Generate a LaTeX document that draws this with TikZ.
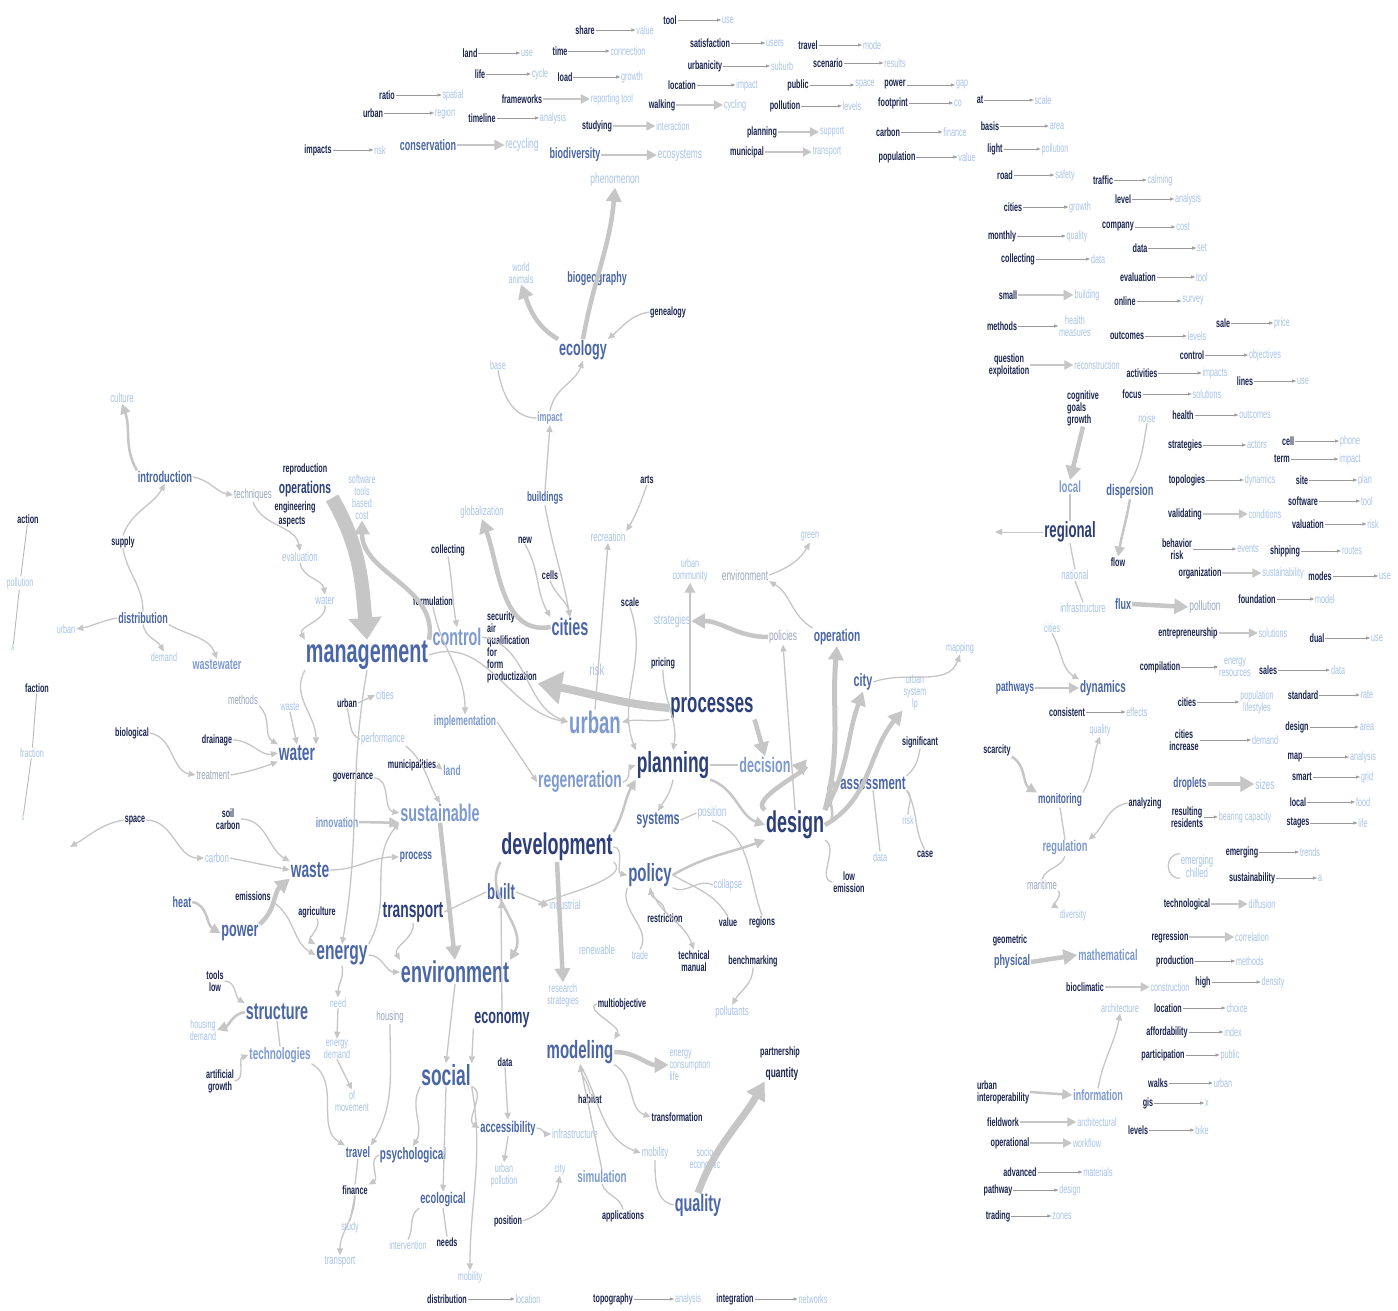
\documentclass[tikz,border=0pt]{standalone}
\usepackage{fontspec}
\setmainfont{Liberation Sans}[FakeStretch=0.6]
\usetikzlibrary{arrows.meta}
\definecolor{dk}{HTML}{1B2550}
\definecolor{nv}{HTML}{2C3F78}
\definecolor{md}{HTML}{4A66A6}
\definecolor{ml}{HTML}{7D9ACF}
\definecolor{lt}{HTML}{A8C3E8}
\definecolor{lg}{HTML}{9AA6BE}
\definecolor{eg}{HTML}{C6C6C6}
\definecolor{ep}{HTML}{9A9A9A}
\tikzset{
 base/.style={inner sep=1pt,outer sep=0pt,align=center},
 sd/.style={base,text=dk,font=\fontsize{#1}{#1}\selectfont\bfseries}, sd/.default=12,
 sl/.style={base,text=lt,font=\fontsize{#1}{#1}\selectfont}, sl/.default=12,
 sg/.style={base,text=lg,font=\fontsize{#1}{#1}\selectfont}, sg/.default=12,
 bn/.style={base,text=nv,font=\fontsize{#1}{#1}\selectfont\bfseries}, bn/.default=16,
 bm/.style={base,text=md,font=\fontsize{#1}{#1}\selectfont\bfseries}, bm/.default=16,
 bl/.style={base,text=ml,font=\fontsize{#1}{#1}\selectfont\bfseries}, bl/.default=16,
 e1/.style={draw=eg,line width=1.3pt,-{Triangle[length=7pt,width=6pt]}},
 l1/.style={draw=eg,line width=1.3pt},
 e2/.style={draw=eg,line width=2.5pt,-{Triangle[length=10pt,width=10pt]}},
 e3/.style={draw=eg,line width=4.5pt,-{Triangle[length=14pt,width=15pt]}},
 e4/.style={draw=eg,line width=14pt,-{Triangle[length=22pt,width=32pt]}},
 pe/.style={draw=ep,line width=0.7pt,-{Triangle[length=4pt,width=3pt,fill=eg]}},
 pa/.style={draw=eg,line width=2pt,-{Triangle[length=9pt,width=9pt]}},
}
\newcommand{\pairrow}[7]{%
  \node[sd] (#1s) at (#2,#4) {#3};
  \node[sl] (#1t) at (#5,#4) {#6};
  \draw[#7] (#1s) -- (#1t);}
\begin{document}
\begin{tikzpicture}[x=1pt,y=-1pt]
\fill[white] (0,0) rectangle (1398,1310);
\useasboundingbox (0,0) rectangle (1398,1310);

% ---------- top rows ----------
\pairrow{p1}{387}{ratio}{95}{453}{spatial}{pe}
\pairrow{p2}{373}{urban}{113}{445}{region}{pe}
\pairrow{p3}{318}{impacts}{150}{380}{risk}{pe}
\pairrow{p4}{670}{tool}{20}{728}{use}{pe}
\pairrow{p5}{585}{share}{30}{645}{value}{pe}
\pairrow{p6}{470}{land}{53}{527}{use}{pe}
\pairrow{p7}{560}{time}{51}{628}{connection}{pe}
\pairrow{p8}{480}{life}{74}{540}{cycle}{pe}
\pairrow{p9}{565}{load}{77}{632}{growth}{pe}
\pairrow{p10}{522}{frameworks}{99}{612}{reporting tool}{pa}
\pairrow{p11}{482}{timeline}{118}{553}{analysis}{pe}
\pairrow{p12}{597}{studying}{126}{673}{interaction}{pa}
\node[bm=15] (biod) at (575,155) {biodiversity};
\node[sl=14] (ecos) at (680,155) {ecosystems};
\draw[e2] (biod) -- (ecos);
\node[bm=15] (cons) at (428,145) {conservation};
\node[sl=14] (recy) at (522,145) {recycling};
\draw[e2] (cons) -- (recy);
\pairrow{p13}{710}{satisfaction}{43}{775}{users}{pe}
\pairrow{p14}{705}{urbanicity}{66}{782}{suburb}{pe}
\pairrow{p15}{682}{location}{85}{747}{impact}{pe}
\pairrow{p16}{662}{walking}{105}{735}{cycling}{pa}
\pairrow{p17}{808}{travel}{45}{872}{mode}{pe}
\pairrow{p18}{828}{scenario}{63}{895}{results}{pe}
\pairrow{p19}{798}{public}{85}{865}{space}{pe}
\pairrow{p20}{785}{pollution}{106}{852}{levels}{pe}
\pairrow{p21}{762}{planning}{132}{832}{support}{pa}
\pairrow{p22}{747}{municipal}{152}{827}{transport}{pa}
\pairrow{p23}{895}{power}{85}{962}{gap}{pe}
\pairrow{p24}{893}{footprint}{103}{958}{co}{pe}
\pairrow{p25}{888}{carbon}{132}{955}{finance}{pe}
\pairrow{p26}{897}{population}{157}{967}{value}{pe}
\pairrow{p27}{980}{at}{100}{1043}{scale}{pe}
\pairrow{p28}{990}{basis}{126}{1057}{area}{pe}
\pairrow{p29}{995}{light}{149}{1055}{pollution}{pe}
\pairrow{p30}{1005}{road}{175}{1065}{safety}{pe}
\pairrow{p31}{1103}{traffic}{180}{1160}{calming}{pe}
\pairrow{p32}{1013}{cities}{207}{1080}{growth}{pe}
\pairrow{p33}{1123}{level}{199}{1188}{analysis}{pe}
\pairrow{p34}{1118}{company}{227}{1183}{cost}{pe}
\pairrow{p35}{1002}{monthly}{236}{1077}{quality}{pe}
\pairrow{p36}{1140}{data}{248}{1202}{set}{pe}
\pairrow{p37}{1018}{collecting}{259}{1098}{data}{pe}
\pairrow{p38}{1138}{evaluation}{277}{1202}{tool}{pe}
\pairrow{p39}{1008}{small}{295}{1087}{building}{e2}
\pairrow{p40}{1125}{online}{301}{1193}{survey}{pe}
\pairrow{p41}{1002}{methods}{326}{1075}{health\\measures}{pe}
\pairrow{p42}{1223}{sale}{323}{1282}{price}{pe}
\pairrow{p43}{1127}{outcomes}{336}{1197}{levels}{pe}
\pairrow{p44}{1009}{question\\exploitation}{365}{1097}{reconstruction}{pa}
\pairrow{p45}{1192}{control}{355}{1265}{objectives}{pe}
\pairrow{p46}{1142}{activities}{373}{1215}{impacts}{pe}
\pairrow{p47}{1245}{lines}{381}{1303}{use}{pe}
\pairrow{p48}{1132}{focus}{394}{1207}{solutions}{pe}
\pairrow{p49}{1183}{health}{415}{1255}{outcomes}{pe}
\pairrow{p50}{1185}{strategies}{445}{1257}{actors}{pe}
\pairrow{p51}{1288}{cell}{441}{1350}{phone}{pe}
\pairrow{p52}{1282}{term}{459}{1350}{impact}{pe}
\pairrow{p53}{1187}{topologies}{480}{1260}{dynamics}{pe}
\pairrow{p54}{1302}{site}{480}{1365}{plan}{pe}
\pairrow{p55}{1303}{software}{501}{1367}{tool}{pe}
\pairrow{p56}{1185}{validating}{514}{1265}{conditions}{pa}
\pairrow{p57}{1308}{valuation}{524}{1373}{risk}{pe}
\pairrow{p58}{1177}{behavior\\risk}{549}{1248}{events}{pe}
\pairrow{p59}{1285}{shipping}{551}{1352}{routes}{pe}
\pairrow{p60}{1200}{organization}{573}{1283}{sustainability}{pa}
\pairrow{p61}{1320}{modes}{576}{1385}{use}{pe}
\pairrow{p62}{1257}{foundation}{599}{1325}{model}{pe}
\pairrow{p63}{1188}{entrepreneurship}{633}{1273}{solutions}{pa}
\pairrow{p64}{1317}{dual}{638}{1377}{use}{pe}
\pairrow{p65}{1160}{compilation}{667}{1235}{energy\\resources}{pe}
\pairrow{p66}{1268}{sales}{670}{1338}{data}{pe}
\pairrow{p67}{1067}{consistent}{712}{1137}{effects}{pe}
\pairrow{p68}{1187}{cities}{702}{1257}{population\\lifestyles}{pe}
\pairrow{p69}{1303}{standard}{695}{1367}{rate}{pe}
\pairrow{p70}{1184}{cities\\increase}{740}{1265}{demand}{pe}
\pairrow{p71}{1297}{design}{727}{1367}{area}{pe}
\pairrow{p72}{1295}{map}{757}{1363}{analysis}{pe}
\pairrow{p73}{1302}{smart}{777}{1367}{grid}{pe}
\node[bm=14] (drop) at (1190,784) {droplets};
\node[sl=14] (size) at (1265,784) {sizes};
\draw[e3] (drop) -- (size);
\pairrow{p74}{1187}{resulting\\residents}{817}{1245}{bearing capacity}{pe}
\pairrow{p75}{1298}{local}{802}{1363}{food}{pe}
\pairrow{p76}{1298}{stages}{823}{1363}{life}{pe}
\pairrow{p77}{1242}{emerging}{852}{1310}{trends}{pe}
\pairrow{p78}{1252}{sustainability}{878}{1320}{a}{pe}
\pairrow{p79}{1187}{technological}{904}{1262}{diffusion}{pa}
\pairrow{p80}{1170}{regression}{937}{1252}{correlation}{pa}
\pairrow{p81}{1175}{production}{961}{1250}{methods}{pe}
\pairrow{p82}{1203}{high}{982}{1273}{density}{pe}
\pairrow{p83}{1085}{bioclimatic}{987}{1170}{construction}{pa}
\pairrow{p84}{1168}{location}{1008}{1237}{choice}{pe}
\pairrow{p85}{1167}{affordability}{1032}{1233}{index}{pe}
\pairrow{p86}{1163}{participation}{1055}{1230}{public}{pe}
\pairrow{p87}{1158}{walks}{1083}{1223}{urban}{pe}
\pairrow{p88}{1148}{gis}{1103}{1207}{x}{pe}
\pairrow{p89}{1138}{levels}{1130}{1202}{bike}{pe}
\pairrow{p90}{1003}{fieldwork}{1122}{1097}{architectural}{pa}
\pairrow{p91}{1010}{operational}{1143}{1087}{workflow}{pa}
\pairrow{p92}{1020}{advanced}{1172}{1098}{materials}{pe}
\pairrow{p93}{998}{pathway}{1190}{1070}{design}{pe}
\pairrow{p94}{998}{trading}{1216}{1062}{zones}{pe}
\pairrow{p95}{447}{distribution}{1299}{528}{location}{pe}
\pairrow{p96}{613}{topography}{1299}{688}{analysis}{pe}
\pairrow{p97}{735}{integration}{1299}{813}{networks}{pe}

% ---------- far left ----------
\node[sd] (acti) at (28,519) {action};
\node[sl] (polL) at (20,583) {pollution};
\node[sl=9] (trA) at (13,648) {a};
\draw[l1,line width=0.9pt,draw=ep!70] (acti) -- (polL) -- (trA);
\node[sd] (fact) at (37,688) {faction};
\node[sl] (frac) at (32,753) {fraction};
\node[sl=9] (trB) at (23,818) {s};
\draw[l1,line width=0.9pt,draw=ep!70] (fact) -- (frac) -- (trB);

% ---------- central cluster nodes ----------
\node[bm=21] (ecol) at (583,350) {ecology};
\node[bm=15] (biog) at (597,279) {biogeography};
\node[sl=14] (phen) at (615,180) {phenomenon};
\node[sl] (wani) at (521,273) {world\\animals};
\node[sd] (gene) at (668,312) {genealogy};
\node[sl] (basel) at (498,365) {base};
\node[bl=13] (impa) at (550,418) {impact};
\node[bm=13.5] (bldg) at (545,498) {buildings};
\node[sl=13] (glob) at (482,512) {globalization};
\node[sd] (wax) at (525,540) {new};
\node[sd] (cell) at (550,575) {cells};
\node[sd] (arts) at (647,480) {arts};
\node[sl=13] (recr) at (608,537) {recreation};
\node[bm=24] (citi) at (570,627) {cities};
\node[sd] (scal) at (630,602) {scale};
\node[sd,align=left] (secu) at (512,647) {security\\air\\qualification\\for\\form\\productization};
\node[sl=14] (strat) at (672,621) {strategies};
\node[sl] (ucom) at (690,570) {urban\\community};
\node[sg=14] (envm) at (745,575) {environment};
\node[sl] (gree) at (810,537) {green};
\node[sg=14] (polc) at (783,637) {policies};
\node[bm=17] (oper) at (837,637) {operation};
\node[bm=18] (city) at (863,682) {city};
\node[sl] (onta) at (915,692) {urban\\system\\lp};
\node[sl] (mapp) at (960,648) {mapping};
\node[sd] (sign) at (920,742) {significant};
\node[bm=19] (asse) at (873,783) {assessment};
\node[bn=30] (desi) at (795,825) {design};
\node[sl] (rskr) at (908,820) {risk};
\node[sl] (datr) at (880,857) {data};
\node[sd] (case) at (925,854) {case};
\node[sd] (lowe) at (849,882) {low\\emission};
\node[bn=28] (proc) at (712,708) {processes};
\node[bl=21] (deci) at (765,765) {decision};
\node[bn=29] (plan) at (673,765) {planning};
\node[sd] (pric) at (663,663) {pricing};
\node[sl=16] (risk) at (597,670) {risk};
\node[bl=31] (urba) at (595,722) {urban};
\node[bl=24] (cont) at (457,637) {control};
\node[sd] (form) at (433,601) {formulation};
\node[sd] (coll) at (448,550) {collecting};
\node[bl=14] (impl) at (465,722) {implementation};
\node[bl=23] (rege) at (580,782) {regeneration};
\node[bm=18] (syst) at (658,820) {systems};
\node[sl=14] (posi) at (712,813) {position};
\node[bn=30] (deve) at (557,847) {development};
\node[bm=25] (poli) at (650,875) {policy};
\node[sl=13] (colp) at (728,885) {collapse};
\node[sd] (rest) at (665,918) {restriction};
\node[sd] (valu) at (728,922) {value};
\node[sd] (regi) at (762,922) {regions};
\node[sd] (tech) at (694,961) {technical\\manual};
\node[sd] (benc) at (753,961) {benchmarking};
\node[sl=13] (pltn) at (732,1012) {pollutants};
\node[sd] (mult) at (622,1004) {multiobjective};
\node[sl] (rese) at (563,995) {research\\strategies};
\node[sl] (trad) at (640,955) {trade};
\node[sl=13] (rene) at (597,950) {renewable};
\node[sl=13] (indu) at (565,905) {industrial};
\node[bm=22] (buil) at (501,892) {built};
\node[bn=23] (tran) at (413,912) {transport};
\node[bm=30] (envi) at (455,972) {environment};
\node[bn=21] (econ) at (502,1020) {economy};
\node[bm=25] (mode) at (580,1052) {modeling};
\node[sl,align=left] (ecl) at (690,1065) {energy\\consumption\\life};
\node[sd] (part) at (780,1052) {partnership};
\node[sd=14] (quan) at (782,1074) {quantity};
\node[sd] (datd) at (505,1062) {data};
\node[sd] (habi) at (590,1099) {habitat};
\node[sd] (trfm) at (677,1117) {transformation};
\node[bm=29] (soci) at (446,1075) {social};
\node[bm=15.5] (acce) at (508,1128) {accessibility};
\node[sl=13] (infr) at (575,1134) {infrastructure};
\node[sl=13] (mobA) at (655,1153) {mobility};
\node[sl] (soec) at (705,1158) {socio\\economic};
\node[sl] (urpo) at (504,1175) {urban\\pollution};
\node[sl] (citS) at (560,1169) {city};
\node[bl=16.5] (simu) at (602,1177) {simulation};
\node[bm=24] (qual) at (698,1205) {quality};
\node[sd] (posS) at (508,1221) {position};
\node[sd] (appl) at (623,1216) {applications};
\node[sl] (mobB) at (470,1277) {mobility};
\node[bm=16.5] (psyc) at (413,1155) {psychological};
\node[bm=15] (trav) at (358,1152) {travel};
\node[sd] (fina) at (355,1190) {finance};
\node[bm=15.5] (ecog) at (443,1200) {ecological};
\node[sl] (stud) at (350,1227) {study};
\node[sl=13] (trnL) at (340,1262) {transport};
\node[sl] (intv) at (408,1245) {intervention};
\node[sd] (need) at (447,1242) {needs};
\node[bm=24] (stru) at (277,1012) {structure};
\node[sl] (hode) at (203,1030) {housing\\demand};
\node[sd] (tolo) at (215,981) {tools\\low};
\node[bl=16.5] (tecn) at (280,1055) {technologies};
\node[sd] (arti) at (220,1081) {artificial\\growth};
\node[sl] (needL) at (338,1003) {need};
\node[sl] (ende) at (337,1049) {energy\\demand};
\node[sg=13] (hous) at (390,1017) {housing};
\node[sl] (ofmo) at (352,1101) {of\\movement};
\node[bm=26] (ener) at (342,955) {energy};
\node[bm=21] (powe) at (240,933) {power};
\node[bm=15] (heat) at (182,902) {heat};
\node[sd] (emis) at (253,896) {emissions};
\node[sd] (agri) at (317,912) {agriculture};
\node[bm=23] (wast) at (310,870) {waste};
\node[sl=13] (carb) at (217,858) {carbon};
\node[sd] (spac) at (135,820) {space};
\node[sd] (soil) at (228,819) {soil\\carbon};
\node[bl=14] (inno) at (337,822) {innovation};
\node[bl=24] (sust) at (440,813) {sustainable};
\node[bm=14] (prcs) at (416,857) {process};
\node[sd] (gove) at (353,778) {governance};
\node[sd] (muni) at (412,765) {municipalities};
\node[bl=14] (land) at (452,770) {land};
\node[sl=13] (perf) at (383,739) {performance};
\node[sd] (urbD) at (347,703) {urban};
\node[sl=13] (citL) at (385,695) {cities};
\node[bm=33] (mana) at (367,655) {management};
\node[bn=17] (opes) at (305,489) {operations};
\node[sd] (repr) at (305,469) {reproduction};
\node[sd] (engi) at (295,507) {engineering};
\node[sd] (aspe) at (292,522) {aspects};
\node[sl] (soft) at (362,497) {software\\tools\\based\\cost};
\node[sl=13] (stab) at (300,557) {evaluation};
\node[sl=13] (watL) at (325,600) {water};
\node[bm=15.5] (intr) at (165,477) {introduction};
\node[sl=13] (cult) at (122,398) {culture};
\node[sg=13] (tecq) at (253,495) {techniques};
\node[sd] (supp) at (123,542) {supply};
\node[bm=15] (dist) at (143,618) {distribution};
\node[sl] (urbL) at (66,629) {urban};
\node[sl] (dema) at (164,657) {demand};
\node[bl=15] (wswt) at (217,665) {wastewater};
\node[sg=13] (meth) at (243,700) {methods};
\node[sl] (wasL) at (290,707) {waste};
\node[bm=23] (wate) at (297,753) {water};
\node[sd] (biol) at (132,733) {biological};
\node[sd] (drai) at (217,740) {drainage};
\node[sg=13] (trea) at (213,775) {treatment};
\coordinate (spE) at (70,847);

% ---------- right cluster nodes ----------
\node[sd,align=left] (cogn) at (1083,408) {cognitive\\goals\\growth};
\node[sl] (nois) at (1147,418) {noise};
\node[bl=16] (loca) at (1070,487) {local};
\node[bm=15.5] (disp) at (1130,491) {dispersion};
\node[bn=22] (regn) at (1070,532) {regional};
\coordinate (arL) at (995,532);
\node[sd] (flw1) at (1118,562) {flow};
\node[sl=13] (nati) at (1075,575) {national};
\node[sl=13] (infR) at (1083,608) {infrastructure};
\node[bm=15] (flux) at (1123,604) {flux};
\node[sg=14] (polR) at (1205,607) {pollution};
\node[sl] (citR) at (1052,628) {cities};
\node[bm=14] (path) at (1015,688) {pathways};
\node[bm=16.5] (dyna) at (1103,688) {dynamics};
\node[sl] (quaR) at (1100,730) {quality};
\node[sd] (scar) at (997,750) {scarcity};
\node[bm=14] (moni) at (1060,800) {monitoring};
\node[sd] (anal) at (1145,803) {analyzing};
\node[bl=15.5] (regu) at (1065,848) {regulation};
\node[sg=13] (mari) at (1042,885) {maritime};
\node[sl] (dive) at (1073,915) {diversity};
\node[sl=13] (emL) at (1197,866) {emerging\\chilled};
\node[sd] (geom) at (1010,940) {geometric};
\node[bm=15] (phys) at (1012,962) {physical};
\node[bl=15.5] (math) at (1108,955) {mathematical};
\node[sl] (arch) at (1120,1008) {architecture};
\node[sd,align=left] (uint) at (1003,1092) {urban\\interoperability};
\node[bl=15] (info) at (1098,1095) {information};

% ---------- central edges ----------
\draw[e3] (ecol.north) to[out=80,in=-95] (phen.south);
\draw[e3] (ecol.north west) to[out=150,in=-70] (wani.south);
\draw[e1] (gene.west) to[out=190,in=40] (ecol.north east);
\draw[l1] (basel.south) to[out=-80,in=180] (impa.west);
\draw[e1] (impa.north) to[out=80,in=-110] (ecol.south);
\draw[e1] (bldg.north) -- (impa.south);
\draw[e1] (bldg.south) to[out=-80,in=100] (citi.north);
\draw[e3] (citi.west) to[out=190,in=-70] (glob.south);
\draw[e1] (wax.south) to[out=-60,in=120] (citi.north west);
\draw[e1] (cell.south) to[out=-70,in=100] (citi.north);
\draw[e1] (arts.south) to[out=-110,in=60] (recr.north east);
\draw[e1] (urba.north) -- (recr.south);
\draw[e1] (scal.south) to[out=-70,in=110] (plan.north west);
\draw[e2] (ucom.south |- proc.north) -- (ucom.south);
\draw[e3] (polc.west) to[out=180,in=0] (strat.east);
\draw[e1] (oper.north west) to[out=150,in=-30] (envm.south east);
\draw[e1] (envm.east) to[out=20,in=-120] (gree.south);
\draw[e3,line width=5pt] (desi.north east) to[out=75,in=-95] (oper.south);
\draw[e3] (desi.north east) to[out=60,in=-110] (city.south);
\draw[e3] (desi.east) to[out=30,in=-130] (onta.south west);
\draw[e1] (desi.north) -- (polc.south);
\draw[e1] (city.east) to[out=20,in=-110] (mapp.south);
\draw[e2] (desi.east) to[out=10,in=190] (asse.west);
\draw[l1] (asse.south east) to[out=-40,in=90] (rskr.north);
\draw[l1] (asse.south) -- (datr.north);
\draw[l1] (asse.south east) to[out=-60,in=120] (case.north);
\draw[l1] (sign.south) to[out=-100,in=40] (asse.north east);
\draw[l1] (desi.south east) to[out=-30,in=170] (lowe.west);
\draw[e3] (desi.north west) to[out=150,in=-10] (deci.east);
\draw[l1] (plan.east) -- (deci.west);
\draw[e2] (plan.south east) to[out=-20,in=160] (desi.west);
\draw[e3] (proc.south east) -- (deci.north);
\draw[draw=eg,line width=8pt,-{Triangle[length=24pt,width=32pt]}] (proc.west) to[out=175,in=-10] (secu.south east);
\draw[e1] (cont.east) to[out=-10,in=160] (urba.west);
\draw[e1] (proc.south west) to[out=190,in=10] (urba.east);
\draw[e1] (pric.south) to[out=-90,in=80] (plan.north);
\draw[e1] (impl.east) -- (rege.west);
\draw[e1] (rege.east) to[out=10,in=200] (plan.west);
\draw[e1] (mana.east) to[out=20,in=170] (urba.west);
\draw[e1] (plan.south) to[out=-100,in=60] (syst.north);
\draw[l1] (syst.east) -- (posi.west);
\draw[e1] (deve.east) to[out=0,in=170] (poli.west);
\draw[e2] (poli.east) to[out=30,in=200] (desi.south west);
\draw[e2] (deve.north east) to[out=60,in=-120] (plan.south west);
\draw[e1] (deve.south east) to[out=-40,in=180] (indu.west);
\draw[e3] (deve.south) -- (rese.north);
\draw[l1] (poli.south east) to[out=-30,in=150] (colp.west);
\draw[e1] (rest.north) to[out=90,in=-80] (poli.south);
\draw[l1] (valu.north) to[out=120,in=-30] (poli.east);
\draw[l1] (regi.north) to[out=110,in=-20] (posi.south);
\draw[e1] (poli.south) to[out=-70,in=110] (tech.north);
\draw[l1] (poli.south west) to[out=-110,in=60] (trad.north);
\draw[e1] (benc.south) to[out=-90,in=60] (pltn.north);
\draw[e1] (mult.west) to[out=200,in=60] (mode.north east);
\draw[e3] (mode.east) to[out=0,in=180] (ecl.west);
\draw[e1] (habi.north) to[out=100,in=-80] (mode.south);
\draw[e1] (simu.north) -- (mode.south);
\draw[e1] (mode.south east) to[out=-30,in=160] (trfm.west);
\draw[e1] (mode.south) to[out=-60,in=160] (mobA.west);
\draw[l1] (mobA.south) to[out=-90,in=170] (qual.west);
\draw[draw=eg,line width=7pt,-{Triangle[length=18pt,width=20pt]}] (qual.north) to[out=70,in=-120] (quan.south west);
\draw[l1] (appl.north) to[out=100,in=-70] (simu.south);
\draw[e2] (deve.south west) to[out=-120,in=60] (envi.north east);
\draw[e3] (sust.south) -- (envi.north);
\draw[e1] (envi.south) -- (soci.north);
\draw[e1] (soci.south east) to[out=-20,in=150] (acce.west);
\draw[e1] (acce.south) -- (urpo.north);
\draw[e1] (acce.east) to[out=0,in=180] (infr.west);
\draw[e1] (posS.east) to[out=20,in=-100] (citS.south);
\draw[e1] (soci.south west) to[out=-120,in=60] (psyc.north);
\draw[e1] (soci.south) -- (ecog.north);
\draw[l1] (ecog.south) -- (need.north);
\draw[e1] (soci.south east) to[out=-80,in=90] (mobB.north);
\draw[l1] (trav.south) -- (fina.north);
\draw[e1] (fina.south) to[out=-90,in=90] (trnL.north);
\draw[l1] (fina.south) -- (stud.north);
\draw[e1] (psyc.west) to[out=200,in=30] (fina.north east);
\draw[l1] (ecog.south west) to[out=-150,in=60] (intv.north);
\draw[e1] (tolo.east) to[out=0,in=150] (stru.north west);
\draw[e2] (stru.west) to[out=190,in=20] (hode.east);
\draw[l1] (stru.south) -- (tecn.north);
\draw[e1] (arti.east) to[out=10,in=200] (tecn.west);
\draw[e1] (tecn.south east) to[out=-30,in=150] (trav.north west);
\draw[e1] (ener.south) to[out=-80,in=90] (needL.north);
\draw[e1] (needL.south) -- (ende.north);
\draw[e1] (ende.south) -- (ofmo.north);
\draw[e1] (ener.east) to[out=0,in=180] (envi.west);
\draw[e1] (ener.north east) to[out=60,in=-130] (sust.south west);
\draw[e1] (agri.south) to[out=-60,in=150] (ener.north west);
\draw[e1] (emis.south east) to[out=-30,in=150] (ener.west);
\draw[e1] (hous.south) to[out=-90,in=60] (trav.north east);
\draw[e1] (soil.east) to[out=0,in=150] (wast.north west);
\draw[e3] (powe.north east) to[out=40,in=-140] (wast.south west);
\draw[e2] (heat.east) to[out=-10,in=150] (powe.west);
\draw[e1] (spac.east) to[out=0,in=180] (carb.west);
\draw[e1] (carb.east) -- (wast.west);
\draw[e1] (spac.west) to[out=190,in=30] (spE);
\draw[e1] (drai.east) to[out=0,in=190] (wate.west);
\draw[e1] (trea.east) to[out=10,in=200] (wate.south west);
\draw[e1] (biol.east) to[out=-10,in=170] (trea.west);
\draw[e1] (dist.south east) to[out=-30,in=110] (wswt.north);
\draw[e1] (meth.south east) to[out=-40,in=150] (wate.north west);
\draw[e1] (wasL.south) -- (wate.north);
\draw[e1] (dist.west) to[out=190,in=10] (urbL.east);
\draw[e1] (dist.south) to[out=-80,in=120] (dema.north);
\draw[e4] (opes.south east) to[out=-60,in=95] (mana.north);
\draw[e3] (mana.north east) to[out=80,in=-90] (soft.south);
\draw[e1] (tecq.south) to[out=-70,in=100] (stab.north);
\draw[e1] (stab.south) to[out=-80,in=100] (watL.north);
\draw[e1] (watL.south) to[out=-80,in=120] (mana.north west);
\draw[e2] (intr.north west) to[out=120,in=-70] (cult.south);
\draw[e1] (supp.north) to[out=70,in=-120] (intr.south);
\draw[e1] (intr.east) to[out=-10,in=170] (tecq.west);
\draw[l1] (supp.south) to[out=-80,in=90] (dist.north);
\draw[e1] (urbD.east) -- (citL.west);
\draw[l1] (urbD.south) to[out=-70,in=160] (perf.west);
\draw[e1] (perf.south east) to[out=-40,in=120] (sust.north);
\draw[e1] (gove.east) to[out=0,in=170] (sust.west);
\draw[e1] (muni.east) -- (land.west);
\draw[e2] (inno.east) -- (sust.south west);
\draw[e1] (wast.east) to[out=0,in=180] (prcs.west);
\draw[l1] (tran.east) -- (buil.west);
\draw[e1] (buil.east) -- (indu.west);
\draw[e1] (tran.south) to[out=-80,in=120] (envi.north west);
\draw[e1] (mana.south west) to[out=-120,in=90] (wate.north east);
\draw[e1] (mana.south) to[out=-100,in=80] (ener.north);
\draw[e1] (form.south) to[out=-80,in=90] (impl.north);
\draw[e1] (coll.south) to[out=-80,in=100] (cont.north);
\draw[e1] (econ.north) -- (buil.south);
\draw[e1] (econ.south west) -- (soci.north east);
\draw[e1] (datd.south) -- (acce.north);

% ---------- right edges ----------
\draw[e3] (cogn.south) -- (loca.north);
\draw[l1] (loca.south) -- (regn.north);
\draw[l1] (regn.south) -- (nati.north);
\draw[l1] (nati.south) -- (infR.north);
\draw[l1] (nois.south) to[out=-100,in=60] (disp.north);
\draw[e2] (disp.south) to[out=-100,in=80] (flw1.north);
\draw[e1,line width=0.8pt] (regn.west) -- (arL);
\draw[e3] (flux.east) -- (polR.west);
\draw[e1] (citR.south) to[out=-60,in=150] (dyna.north west);
\draw[e2] (path.east) -- (dyna.west);
\draw[e2] (scar.south east) to[out=-30,in=150] (moni.north west);
\draw[e1] (moni.north east) to[out=60,in=-110] (quaR.south);
\draw[l1] (moni.south) -- (regu.north);
\draw[e1] (anal.west) to[out=190,in=40] (regu.north east);
\draw[l1] (regu.south) to[out=-110,in=70] (mari.north);
\draw[e1] (mari.south east) to[out=-40,in=150] (dive.north west);
\draw[e3] (phys.east) -- (math.west);
\draw[e1] (info.north) to[out=80,in=-100] (arch.south);
\draw[e2] (uint.east) -- (info.west);
\draw[l1] (emL.north west) to[out=180,in=180,looseness=1.6] (emL.south west);
\end{tikzpicture}
\end{document}
